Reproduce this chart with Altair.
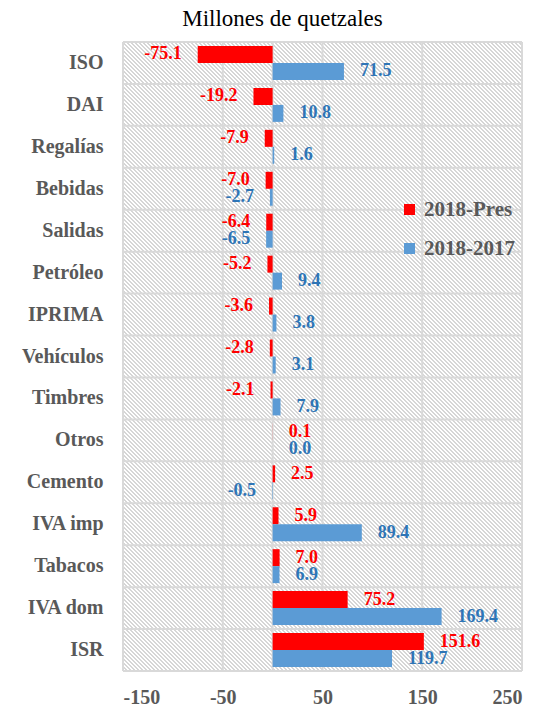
import altair as alt
import pandas as pd

categories = ["ISO", "DAI", "Regalías", "Bebidas", "Salidas", "Petróleo", "IPRIMA",
              "Vehículos", "Timbres", "Otros", "Cemento", "IVA imp", "Tabacos",
              "IVA dom", "ISR"]
pres = [-75.1, -19.2, -7.9, -7.0, -6.4, -5.2, -3.6, -2.8, -2.1, 0.1, 2.5, 5.9, 7.0, 75.2, 151.6]
yoy = [71.5, 10.8, 1.6, -2.7, -6.5, 9.4, 3.8, 3.1, 7.9, 0.0, -0.5, 89.4, 6.9, 169.4, 119.7]
series_names = ["2018-Pres", "2018-2017"]
x_ticks = [-150, -50, 50, 150, 250]
grid_x = [-150, -50, 0, 50, 150, 250]

rows = []
for c, a, b in zip(categories, pres, yoy):
    rows.append({"cat": c, "series": series_names[0], "value": a, "label": f"{a:.1f}"})
    rows.append({"cat": c, "series": series_names[1], "value": b, "label": f"{b:.1f}"})
df = pd.DataFrame(rows)

W, H = 399, 629
FONT = "Liberation Serif"
GRID = "#d9d9d9"
bar_colors = ["#ff0000", "#5b9bd5"]
text_colors = ["#ff0000", "#2e75b6"]

xscale = alt.Scale(domain=[-150, 250], nice=False, zero=False)
xaxis = alt.Axis(values=x_ticks, title=None, labelExpr="toString(datum.value)")
yscale = alt.Scale(domain=categories, paddingInner=0, paddingOuter=0)
yoff = alt.YOffset("series:N", scale=alt.Scale(domain=series_names, paddingInner=0, paddingOuter=0.235))

# hatched background via a striped gradient
n_per = 257
frac = 0.42
stops = []
for i in range(n_per):
    o0 = i / n_per
    o1 = (i + frac) / n_per
    o2 = (i + 1) / n_per
    stops += [alt.GradientStop(offset=o0, color="#d6d6d6"),
              alt.GradientStop(offset=o1, color="#d6d6d6"),
              alt.GradientStop(offset=o1, color="#ffffff"),
              alt.GradientStop(offset=o2, color="#ffffff")]
r = H / W
a = (1 + r) / (1 + r * r)
grad = alt.LinearGradient(gradient="linear", stops=stops, x1=0, y1=1, x2=a, y2=1 - r * a)

hatch = alt.Chart(pd.DataFrame({"k": [0]})).mark_rect(fill=grad, strokeWidth=0).encode(
    x=alt.value(0), x2=alt.value(W), y=alt.value(0), y2=alt.value(H))

hgrid = alt.Chart(pd.DataFrame({"cat": categories})).mark_rule(color=GRID, strokeWidth=2).encode(
    y=alt.Y("cat:N", scale=yscale, bandPosition=0, title=None),
    x=alt.value(0), x2=alt.value(W))
hbottom = alt.Chart(pd.DataFrame({"k": [0]})).mark_rule(color=GRID, strokeWidth=2).encode(
    y=alt.value(H), x=alt.value(0), x2=alt.value(W))
vgrid = alt.Chart(pd.DataFrame({"g": grid_x})).mark_rule(color=GRID, strokeWidth=2).encode(
    x=alt.X("g:Q", scale=xscale, axis=xaxis),
    y=alt.value(0), y2=alt.value(H))

bars = alt.Chart(df).mark_bar().encode(
    y=alt.Y("cat:N", scale=yscale, title=None),
    yOffset=yoff,
    x=alt.X("value:Q", scale=xscale, axis=xaxis),
    color=alt.Color("series:N", scale=alt.Scale(domain=series_names, range=bar_colors),
                    legend=alt.Legend(orient="none", legendX=276, legendY=157, title=None,
                                      symbolType="square", symbolSize=121, symbolStrokeWidth=0,
                                      labelFont=FONT, labelFontSize=21, labelFontWeight="bold",
                                      labelColor="#595959", rowPadding=17, labelOffset=4)),
)

texts = []
for s, col in zip(series_names, text_colors):
    for positive in (True, False):
        sub = df[(df["series"] == s) & ((df["value"] >= 0) == positive)]
        t = alt.Chart(sub).mark_text(
            align="left" if positive else "right", dx=16 if positive else -16,
            baseline="middle", font=FONT, fontSize=18, fontWeight="bold", color=col,
        ).encode(
            y=alt.Y("cat:N", scale=yscale, title=None),
            yOffset=yoff,
            x=alt.X("value:Q", scale=xscale, axis=xaxis),
            text="label:N",
        )
        texts.append(t)

chart = alt.layer(hatch, hgrid, hbottom, vgrid, bars, *texts).properties(
    width=W, height=H,
    autosize=alt.AutoSizeParams(type="none"),
    padding={"left": 115, "top": 34, "right": 10, "bottom": 38},
    title=alt.TitleParams("Millones de quetzales", font=FONT, fontSize=23, fontWeight="normal",
                          color="black", anchor="middle", dx=-40, offset=10),
).configure_view(stroke=None).configure_axisY(
    labelFont=FONT, labelFontSize=20, labelFontWeight="bold", labelColor="#595959",
    labelPadding=20, ticks=False, domain=False, grid=False,
).configure_axisX(
    labelFont=FONT, labelFontSize=20, labelFontWeight="bold", labelColor="#595959",
    labelPadding=16, ticks=False, domain=False, grid=False,
)

chart.save("out.html", embed_options={"renderer": "svg", "actions": False})
